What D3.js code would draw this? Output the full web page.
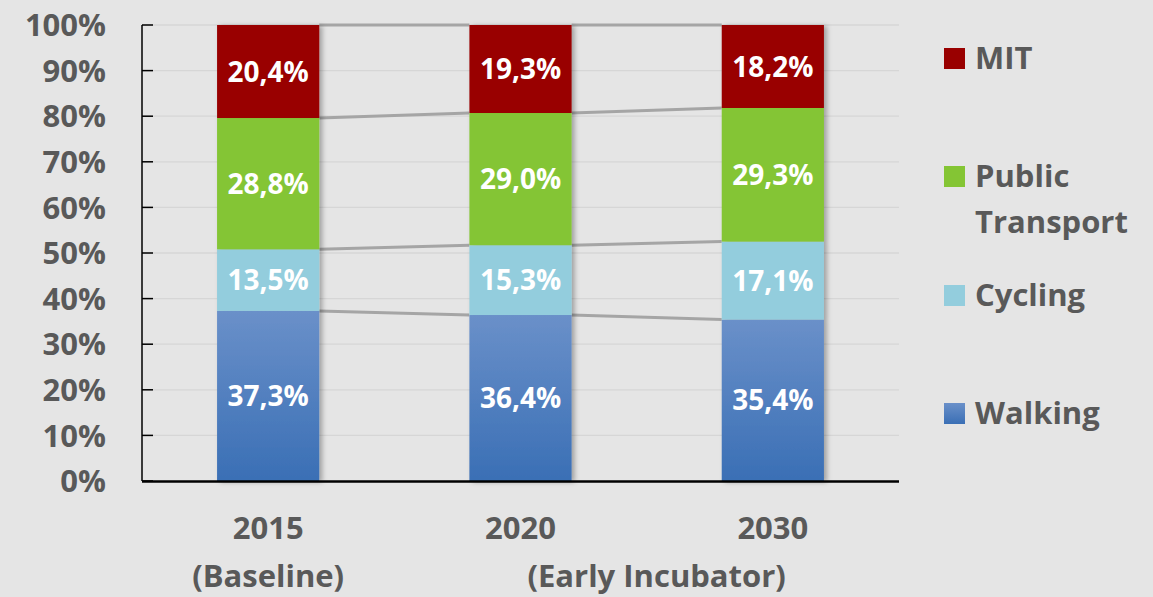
<!DOCTYPE html>
<html>
<head>
<meta charset="utf-8">
<script src="https://cdn.jsdelivr.net/npm/d3@7"></script>
<style>
  html, body { margin: 0; padding: 0; background: #e5e5e5; }
  svg { display: block; font-family: "Open Sans", Lato, sans-serif; font-weight: bold; }
</style>
</head>
<body>
<svg id="chart" width="1153" height="597"></svg>
<script>
// données
const years = ["2015", "2020", "2030"];
const subLabels = ["(Baseline)", "", ""];
const series = ["Walking", "Cycling", "Public Transport", "MIT"];
const walking = [37.3, 36.4, 35.4];
const cycling = [13.5, 15.3, 17.1];
const publicTransport = [28.8, 29.0, 29.3];
const mit = [20.4, 19.3, 18.2];
const yTicks = [0, 10, 20, 30, 40, 50, 60, 70, 80, 90, 100];

const values = [walking, cycling, publicTransport, mit];
const colors = ["url(#gradWalk)", "#93cddd", "#84c534", "#990000"];
const textColor = "#595959";

const svg = d3.select("#chart");

// dégradé + ombre
const defs = svg.append("defs");
const grad = defs.append("linearGradient").attr("id", "gradWalk")
    .attr("x1", 0).attr("y1", 0).attr("x2", 0).attr("y2", 1);
grad.append("stop").attr("offset", "0%").attr("stop-color", "#6a90c9");
grad.append("stop").attr("offset", "100%").attr("stop-color", "#3a6fb5");
const shadow = defs.append("filter").attr("id", "shadow")
    .attr("x", "-10%").attr("y", "-5%").attr("width", "130%").attr("height", "110%");
shadow.append("feDropShadow").attr("dx", 3).attr("dy", 1)
    .attr("stdDeviation", 2.5).attr("flood-color", "#000").attr("flood-opacity", 0.3);

// échelles
const x = d3.scaleBand().domain(years).range([142, 899])
    .paddingInner(0.595).paddingOuter(0.2975);
const y = d3.scaleLinear().domain([0, 100]).range([481, 25]);
const bw = x.bandwidth();

// empilement
const table = years.map((yr, i) => {
  const row = { year: yr };
  series.forEach((s, k) => row[s] = values[k][i]);
  return row;
});
const stacked = d3.stack().keys(series)(table);

// grille
svg.append("g").selectAll("line")
    .data(yTicks.filter(t => t > 0))
    .enter().append("line")
    .attr("x1", 142).attr("x2", 899)
    .attr("y1", d => y(d)).attr("y2", d => y(d))
    .attr("stroke", "#d6d6d6").attr("stroke-width", 1.3);

// lignes de série
const lines = svg.append("g");
stacked.forEach(layer => {
  for (let i = 0; i < years.length - 1; i++) {
    lines.append("line")
      .attr("x1", x(years[i]) + bw).attr("y1", y(layer[i][1]))
      .attr("x2", x(years[i + 1])).attr("y2", y(layer[i + 1][1]))
      .attr("stroke", "#a5a5a5").attr("stroke-width", 3);
  }
});

// barres
const bars = svg.append("g").attr("filter", "url(#shadow)");
stacked.forEach((layer, k) => {
  bars.selectAll(null)
    .data(layer)
    .enter().append("rect")
    .attr("x", d => x(d.data.year))
    .attr("width", bw)
    .attr("y", d => y(d[1]))
    .attr("height", d => y(d[0]) - y(d[1]))
    .attr("fill", colors[k]);
});

// étiquettes des barres
stacked.forEach(layer => {
  svg.append("g").selectAll("text")
    .data(layer)
    .enter().append("text")
    .attr("x", d => x(d.data.year) + bw / 2)
    .attr("y", d => (y(d[0]) + y(d[1])) / 2)
    .attr("dy", "0.36em")
    .attr("text-anchor", "middle")
    .attr("fill", "white")
    .style("font-size", "28px")
    .text(d => (d[1] - d[0]).toFixed(1).replace(".", ",") + "%");
});

// axe Y
const yAxis = svg.append("g");
yAxis.append("line").attr("x1", 142).attr("x2", 142)
    .attr("y1", y(100)).attr("y2", y(0))
    .attr("stroke", "#000").attr("stroke-width", 1.5);
yAxis.selectAll(".tick").data(yTicks).enter().append("line")
    .attr("x1", 142).attr("x2", 153)
    .attr("y1", d => y(d)).attr("y2", d => y(d))
    .attr("stroke", "#000").attr("stroke-width", 1.5);
yAxis.selectAll("text").data(yTicks).enter().append("text")
    .attr("x", 106).attr("y", d => y(d))
    .attr("dy", "0.36em")
    .attr("text-anchor", "end")
    .attr("fill", textColor)
    .style("font-size", "31px")
    .text(d => d + "%");

// ligne de base
svg.append("line").attr("x1", 142).attr("x2", 899)
    .attr("y1", y(0) + 0.5).attr("y2", y(0) + 0.5)
    .attr("stroke", "#000").attr("stroke-width", 2.5);

// catégories
const cat = svg.append("g").attr("fill", textColor).style("font-size", "31px")
    .attr("text-anchor", "middle");
cat.selectAll(".yr").data(years).enter().append("text")
    .attr("x", d => x(d) + bw / 2).attr("y", 539)
    .text(d => d);
cat.selectAll(".sub").data(subLabels).enter().append("text")
    .attr("x", (d, i) => x(years[i]) + bw / 2).attr("y", 587)
    .text(d => d);
cat.append("text")
    .attr("x", (x("2020") + x("2030")) / 2 + bw / 2 + 10).attr("y", 587)
    .text("(Early Incubator)");

// légende
const legendItems = [
  { color: colors[3], lines: ["MIT"], sq: 48 },
  { color: colors[2], lines: ["Public", "Transport"], sq: 166 },
  { color: colors[1], lines: ["Cycling"], sq: 285 },
  { color: colors[0], lines: ["Walking"], sq: 403 }
];
const legend = svg.selectAll(".legend").data(legendItems)
    .enter().append("g").attr("class", "legend");
legend.append("rect")
    .attr("x", 944).attr("y", d => d.sq)
    .attr("width", 21).attr("height", 21)
    .attr("fill", d => d.color);
legend.each(function(d) {
  d3.select(this).selectAll("text").data(d.lines).enter().append("text")
    .attr("x", 975).attr("y", (l, j) => d.sq + 21 + j * 46)
    .attr("fill", textColor)
    .style("font-size", "31px")
    .text(l => l);
});
</script>
</body>
</html>
